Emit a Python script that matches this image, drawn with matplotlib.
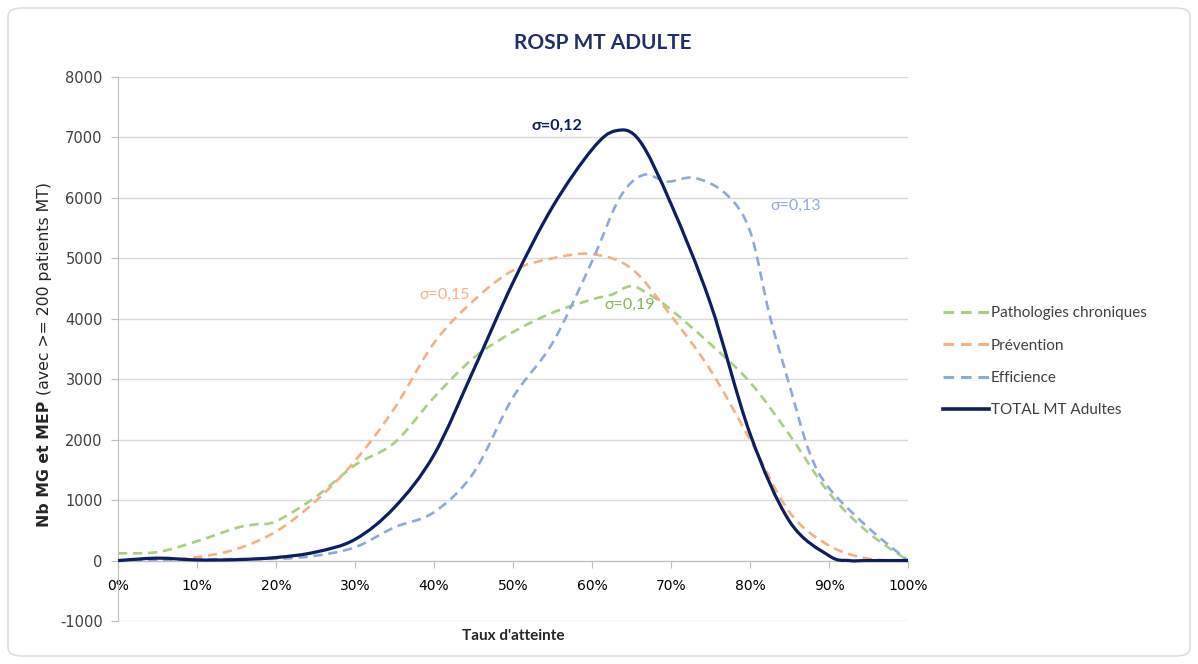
import numpy as np
import matplotlib
matplotlib.use("Agg")
import matplotlib.pyplot as plt
from matplotlib.path import Path
from matplotlib.patches import PathPatch, FancyBboxPatch
from matplotlib.lines import Line2D

# Taux d'atteinte (%) and number of MG/MEP
x_patho = [0, 5, 10, 15, 17.5, 20, 25, 30, 35, 40, 45, 50, 55, 60, 62.5, 65, 67.5, 70, 75, 80, 85, 90, 95, 100]
y_patho = [120, 140, 320, 540, 600, 650, 1050, 1580, 1950, 2700, 3350, 3780, 4100, 4320, 4400, 4540, 4380, 4150, 3580, 2950, 2080, 1120, 460, 0]

x_prev = [0, 5, 10, 15, 20, 25, 30, 35, 40, 45, 50, 55, 60, 65, 70, 75, 80, 85, 90, 95, 100]
y_prev = [0, 10, 55, 190, 480, 980, 1650, 2520, 3600, 4300, 4800, 5000, 5070, 4830, 4050, 3150, 2000, 800, 250, 30, 0]

x_effi = [0, 10, 20, 25, 30, 35, 40, 45, 50, 55, 60, 63.5, 66.5, 69.5, 73, 77, 80, 82.5, 85, 87.5, 90, 95, 100]
y_effi = [0, 20, 30, 80, 220, 550, 800, 1450, 2700, 3600, 4950, 6000, 6380, 6270, 6330, 6060, 5450, 4050, 2900, 1800, 1200, 540, 0]

x_total = [0, 5, 10, 15, 20, 25, 30, 35, 40, 45, 50, 55, 60, 63, 66, 70, 75, 80, 85, 90, 92.5, 95, 100]
y_total = [0, 40, 10, 15, 50, 140, 350, 880, 1750, 3150, 4600, 5850, 6800, 7110, 6950, 5900, 4250, 2100, 650, 80, 0, 0, 0]

labels = ["Pathologies chroniques", "Prévention", "Efficience", "TOTAL MT Adultes"]
colors = ["#a9cf80", "#f4b183", "#8eaadb", "#0d1f5e"]
sigma_txt = ["σ=0,19", "σ=0,15", "σ=0,13", "σ=0,12"]
sigma_pos = [(64.8, 4230), (41.3, 4400), (85.8, 5860), (55.5, 7190)]
sigma_col = ["#86b556", "#f4b183", "#8eaadb", "#0d1f5e"]

xticks = list(range(0, 101, 10))
yticks = list(range(-1000, 8001, 1000))

FONT = "Lato"


def smooth_path(x, y):
    # Excel-like smoothed line: Catmull-Rom converted to cubic Bezier segments
    pts = np.column_stack([x, y]).astype(float)
    n = len(pts)
    verts = [pts[0]]
    codes = [Path.MOVETO]
    for i in range(n - 1):
        p0 = pts[i - 1] if i > 0 else pts[i]
        p1 = pts[i]
        p2 = pts[i + 1]
        p3 = pts[i + 2] if i + 2 < n else pts[i + 1]
        verts += [p1 + (p2 - p0) / 6, p2 - (p3 - p1) / 6, p2]
        codes += [Path.CURVE4] * 3
    return Path(verts, codes)


fig = plt.figure(figsize=(11.98, 6.64), dpi=100)
fig.patch.set_facecolor("white")

# rounded chart-area border
border = FancyBboxPatch((8 / 1198, 8 / 664), 1182 / 1198, 648 / 664,
                        boxstyle="round,pad=0,rounding_size=0.012",
                        transform=fig.transFigure, facecolor="none",
                        edgecolor="#d9d9d9", linewidth=1.0, zorder=-1)
fig.patches.append(border)

ax = fig.add_axes([118 / 1198, 1 - 621 / 664, 790 / 1198, 544 / 664])
ax.set_facecolor("none")
ax.set_xlim(0, 100)
ax.set_ylim(-1000, 8000)

series = [(x_patho, y_patho), (x_prev, y_prev), (x_effi, y_effi), (x_total, y_total)]
handles = []
for i, (xs, ys) in enumerate(series):
    total = i == 3
    ls = "-" if total else (0, (3.5, 2.2))
    lw = 2.3 if total else 1.9
    patch = PathPatch(smooth_path(xs, ys), facecolor="none", edgecolor=colors[i],
                      linewidth=lw, linestyle=ls, zorder=4 if total else 3,
                      capstyle="butt", joinstyle="round")
    ax.add_patch(patch)
    handles.append(Line2D([], [], color=colors[i], lw=lw + 0.3, linestyle=ls))

for txt, (px, py), c in zip(sigma_txt, sigma_pos, sigma_col):
    ax.text(px, py, txt, color=c, fontsize=11.5, family=FONT,
            fontweight="bold" if c == colors[3] else "normal",
            ha="center", va="center", zorder=5)

# axes styling
ax.set_yticks(yticks)
ax.set_xticks(xticks)
ax.set_xticklabels([f"{v}%" for v in xticks], family=FONT, fontsize=11, color="#404040")
ax.set_yticklabels([str(v) for v in yticks], family="DejaVu Sans", fontsize=10.5, color="#404040")
ax.grid(axis="y", color="#d9d9d9", linewidth=1.0, zorder=0)
ax.set_axisbelow(True)
for s in ["top", "right"]:
    ax.spines[s].set_visible(False)
ax.spines["bottom"].set_position(("data", 0))
ax.spines["bottom"].set_color("#bfbfbf")
ax.spines["left"].set_color("#bfbfbf")
ax.tick_params(axis="x", direction="out", length=5, color="#bfbfbf", pad=8)
ax.tick_params(axis="y", direction="out", length=5, color="#bfbfbf", pad=6)

ax.text(0.5, -15 / 544, "Taux d'atteinte", transform=ax.transAxes, ha="center", va="center",
        family=FONT, fontsize=11, fontweight="bold", color="#262626")

fig.text(603 / 1198, 1 - 43 / 664, "ROSP MT ADULTE", ha="center", va="center",
         family=FONT, fontsize=15, fontweight="bold", color="#1f2f6b")

# y label: bold part then regular part, rotated
yl_x = 45 / 1198
t1 = fig.text(yl_x, 1 - 527 / 664, "Nb MG et MEP ", rotation=90, ha="center", va="bottom",
              family="DejaVu Sans", fontsize=11.3, fontweight="bold", color="#262626")
fig.canvas.draw()
bb = t1.get_window_extent(fig.canvas.get_renderer()).transformed(fig.transFigure.inverted())
fig.text(yl_x, bb.y1, "(avec >= 200 patients MT)", rotation=90, ha="center", va="bottom",
         family="DejaVu Sans", fontsize=11.3, color="#262626")

fig.legend(handles, labels, loc="center left", bbox_to_anchor=(943 / 1198, 1 - 362 / 664),
           frameon=False, prop={"family": FONT, "size": 11}, handlelength=3.0,
           handletextpad=0.15, labelspacing=1.2, borderpad=0, borderaxespad=0,
           labelcolor="#404040")

fig.savefig("out.png", dpi=100, facecolor="white")
